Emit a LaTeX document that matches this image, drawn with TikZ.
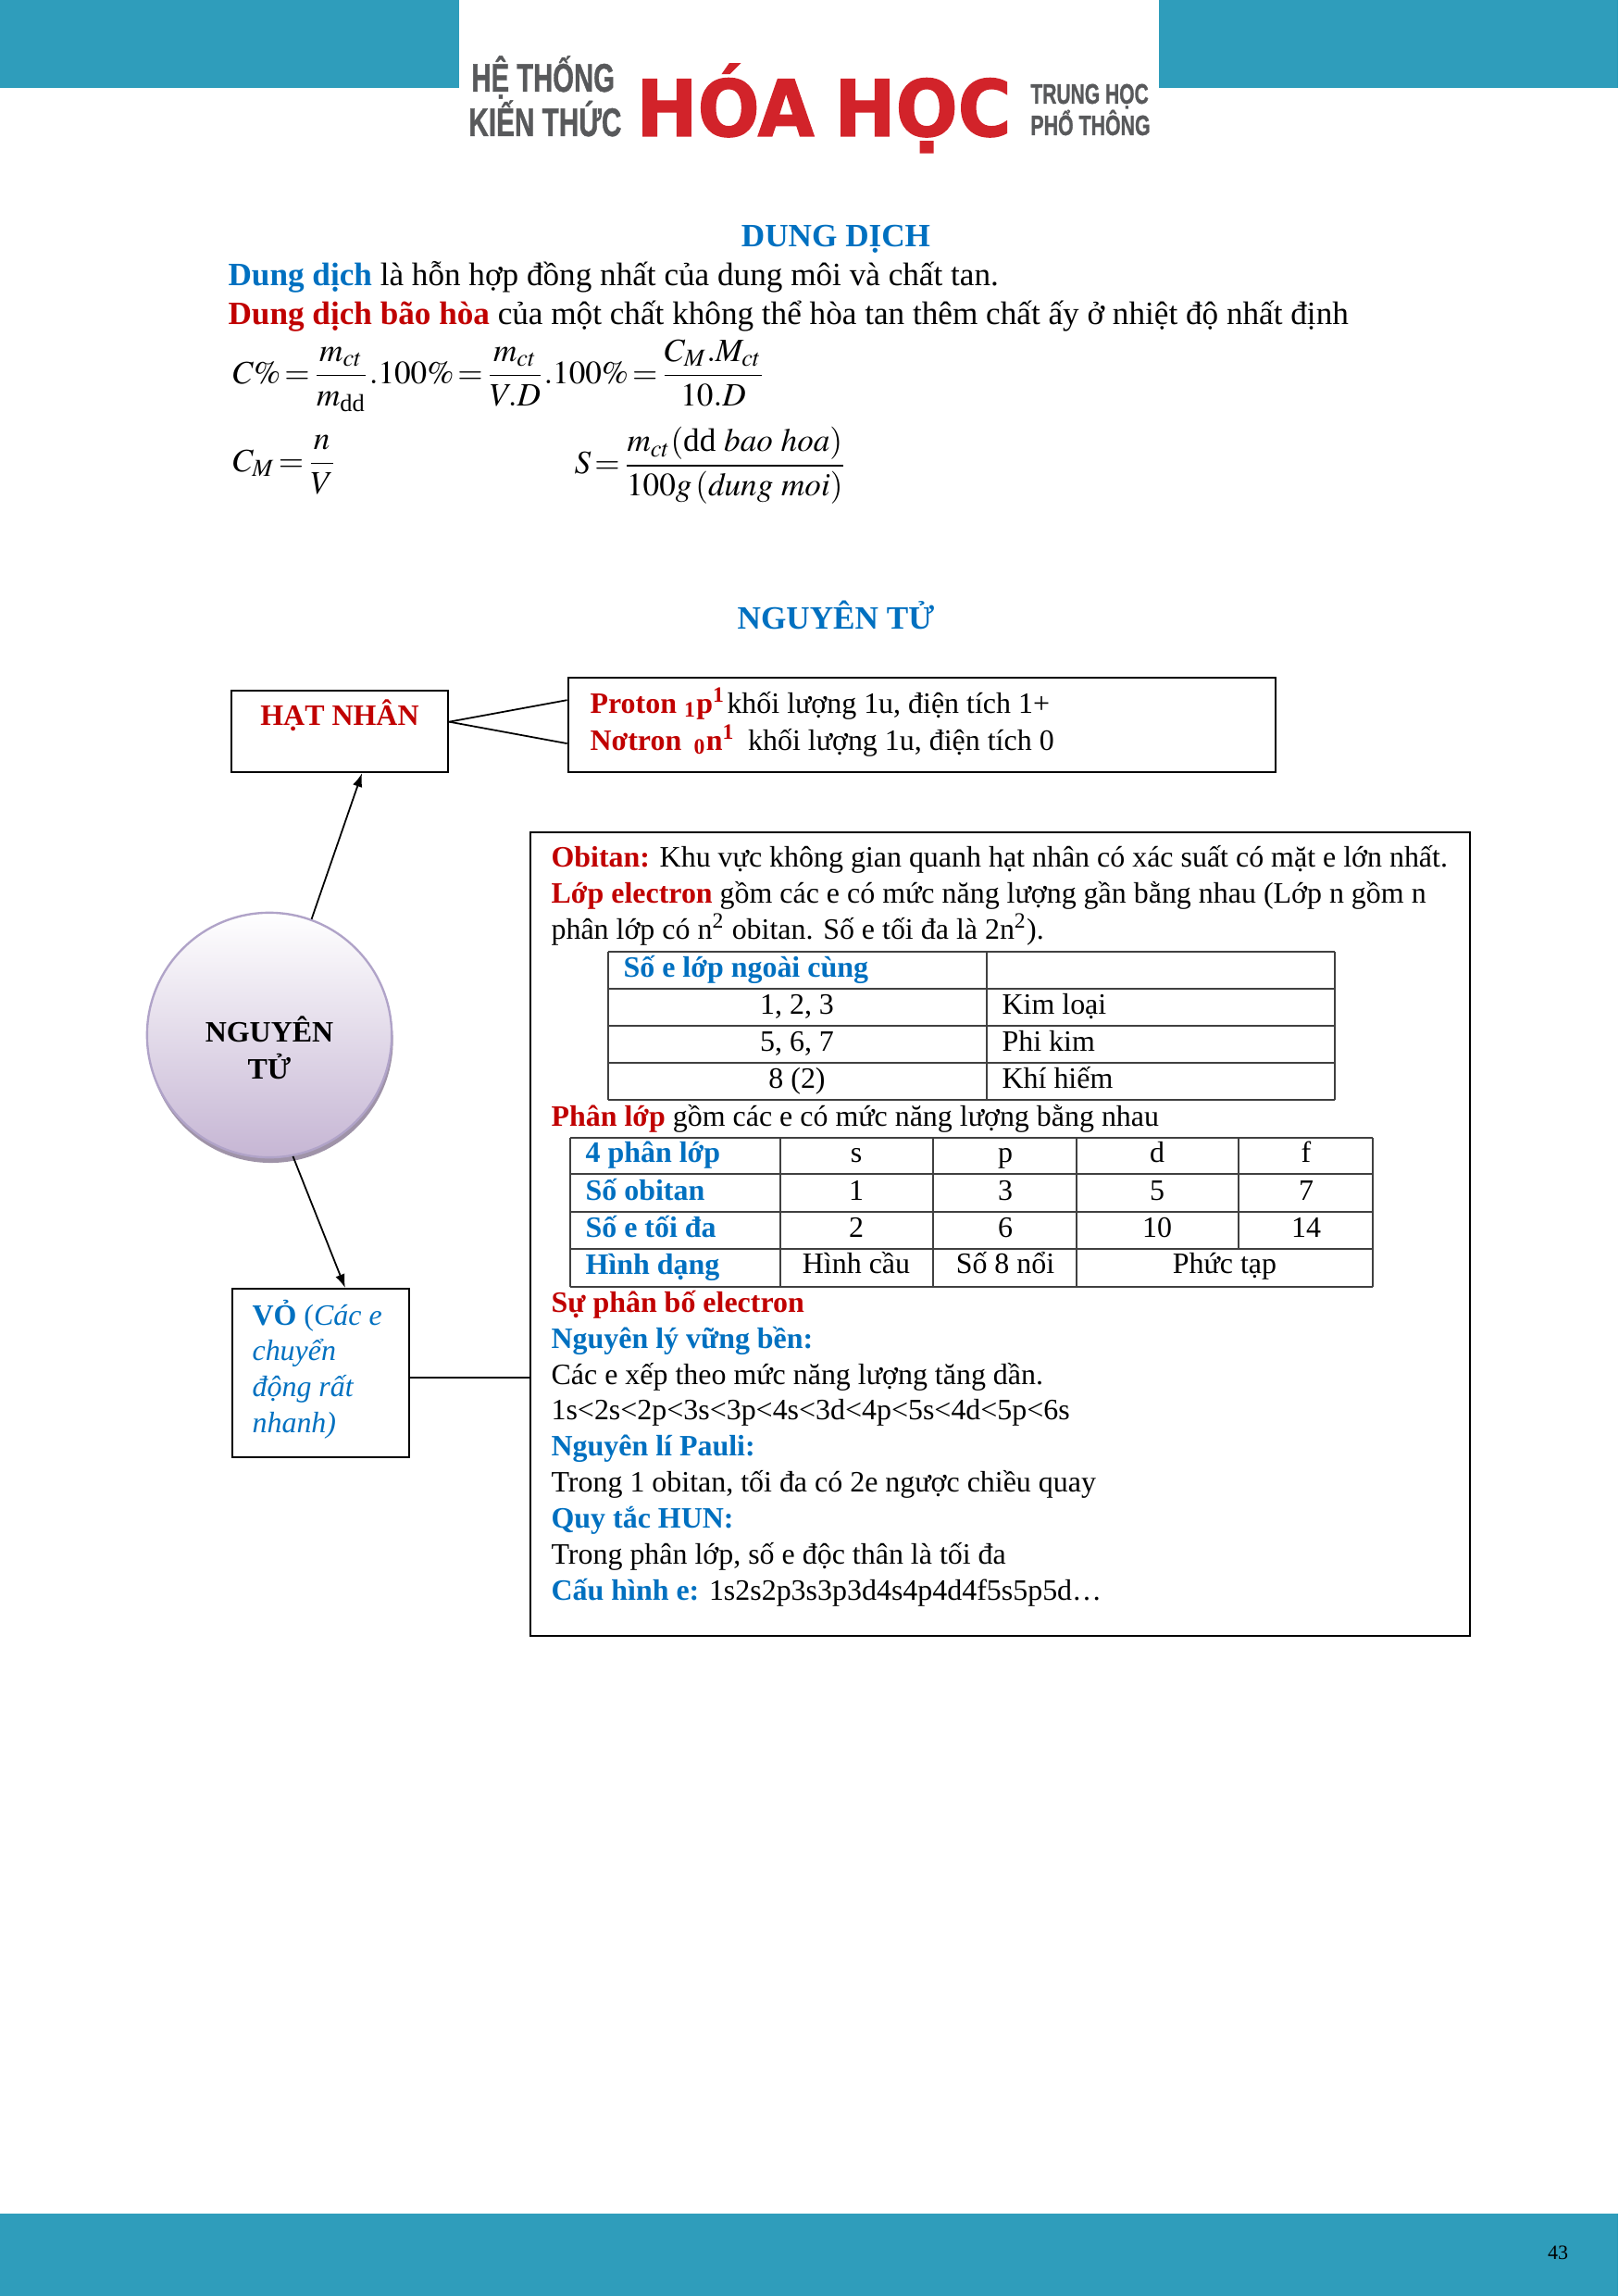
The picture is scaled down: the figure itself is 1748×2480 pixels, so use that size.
\documentclass[tikz,border=0pt]{standalone}
\usepackage{amsmath}
\usepackage{mathptmx}
\usepackage[no-math]{fontspec}
\setmainfont{Liberation Serif}
\newfontface\logofont[FakeBold=1.2]{Liberation Sans Bold}
\newfontface\heavyfont[FakeBold=1.5]{DejaVu Sans Bold}
\usetikzlibrary{shadows}
\usetikzlibrary{arrows.meta}
\tikzset{>={Latex[length=5pt,width=3.6pt]}}
\definecolor{tealbar}{HTML}{2F9DBB}
\definecolor{logored}{HTML}{D2232A}
\definecolor{logogray}{HTML}{58595B}
\definecolor{headblue}{HTML}{0070C0}
\definecolor{headred}{HTML}{C00000}
\definecolor{ballrim}{HTML}{B0A3C8}
\definecolor{ballbottom}{HTML}{C6B6D4}
\definecolor{ballshadow}{HTML}{9F93A8}
\newcommand{\redb}[1]{\textcolor{headred}{\textbf{#1}}}
\newcommand{\blueb}[1]{\textcolor{headblue}{\textbf{#1}}}
\newcommand{\tightrel}{\thickmuskip=2mu\relax}
\tikzset{
  txt/.style={anchor=base west,inner sep=0pt,font=\fontsize{10.9}{13}\selectfont},
  toptxt/.style={anchor=base west,inner sep=0pt,font=\fontsize{12}{14}\selectfont},
  cell/.style={anchor=base,inner sep=0pt,font=\fontsize{10.9}{13}\selectfont},
  boldcell/.style={anchor=base,inner sep=0pt,font=\fontsize{10.9}{13}\selectfont\bfseries},
  votxt/.style={anchor=base west,inner sep=0pt,text=headblue,font=\fontsize{10.9}{13}\selectfont\itshape},
  title/.style={anchor=base,inner sep=0pt,font=\fontsize{12}{14}\selectfont\bfseries,text=headblue},
  formula/.style={anchor=west,inner sep=0pt,font=\fontsize{12}{14}\selectfont},
  boxed/.style={draw,line width=0.8pt,inner sep=0pt},
  logo/.style={anchor=base west,inner sep=0pt,text=logogray,transform shape},
  tline/.style={line width=0.6pt,black!75},
}
\begin{document}
\begin{tikzpicture}[x=0.012cm,y=-0.012cm]
    \useasboundingbox (0,0) rectangle (1748,2480);
    % bands
    \fill[tealbar] (0,0) rectangle (496,95);
    \fill[tealbar] (1252,0) rectangle (1748,95);
    \fill[tealbar] (0,2391) rectangle (1748,2480);
    \node[anchor=base,inner sep=0pt,font=\fontsize{7.5}{9}\selectfont] (pageno) at (1683,2440) {43};
    % logo
    \node[logo,xscale=0.68,font=\logofont\fontsize{14.7}{16}\selectfont] (heth) at (509,99) {HỆ THỐNG};
    \node[logo,xscale=0.69,font=\logofont\fontsize{14.7}{16}\selectfont] (kien) at (506,147) {KIẾN THỨC};
    \node[logo,xscale=0.935,text=logored,font=\heavyfont\fontsize{28.8}{30}\selectfont] (hoahoc) at (687,147) {HÓA\hspace{-2pt} HỌC};
    \node[logo,xscale=0.69,font=\logofont\fontsize{10.4}{12}\selectfont] (trung) at (1113,112) {TRUNG HỌC};
    \node[logo,xscale=0.70,font=\logofont\fontsize{10.4}{12}\selectfont] (pho) at (1113,146) {PHỔ THÔNG};
    % dung dich
    \node[title] (ddtitle) at (903,267) {DUNG DỊCH};
    \node[toptxt] (ddone) at (246,309) {\blueb{Dung dịch} là hỗn hợp đồng nhất của dung môi và chất tan.};
    \node[toptxt] (ddtwo) at (246,351) {\redb{Dung dịch bão hòa} của một chất không thể hòa tan thêm chất ấy ở nhiệt độ nhất định};
    \node[formula] (fc) at (251,406)
      {$\tightrel C\%=\dfrac{m_{ct}}{m_{\text{dd}}}.100\%=\dfrac{m_{ct}}{V.D}.100\%=\dfrac{C_M.M_{ct}}{10.D}$};
    \node[formula] (fm) at (251,502)
      {$\tightrel C_M=\dfrac{n}{V}$};
    \node[formula] (fs) at (620,503)
      {$\tightrel S=\dfrac{m_{ct}(\text{dd }\mathit{bao\ hoa})}{100g\,(\mathit{dung\ moi})}$};
    % nguyen tu
    \node[title] (nttitle) at (903,679) {NGUYÊN TỬ};
    \node[boxed,minimum width=2.808cm,minimum height=1.056cm] (hatnhan) at (367,790) {};
    \node[boldcell,text=headred] (hatnhantxt) at (367,783) {HẠT NHÂN};
    \node[boxed,minimum width=9.168cm,minimum height=1.224cm] (proton) at (996,783) {};
    \node[txt] (prone) at (637,770) {\redb{Proton \textsubscript{1}p\textsuperscript{1}}\hspace{-2pt} khối lượng 1u, điện tích 1+};
    \node[txt] (prtwo) at (637,810) {\redb{Nơtron \,\textsubscript{0}n\textsuperscript{1}}\hspace{-0.6pt} \ khối lượng 1u, điện tích 0};
    \node[circle,draw=ballrim,line width=0.8pt,inner sep=0pt,minimum size=3.17cm,
      top color=white,bottom color=ballbottom,
      drop shadow={shadow xshift=0.5pt,shadow yshift=-2pt,fill=ballshadow,opacity=1}] (atom) at (291,1118) {};
    \node[boldcell] (atomone) at (291,1125) {NGUYÊN};
    \node[boldcell] (atomtwo) at (291,1165) {TỬ};
    \node[boxed,minimum width=2.292cm,minimum height=2.178cm] (vo) at (346.5,1483) {};
    \node[txt] (voa) at (272,1431) {\blueb{VỎ} \textcolor{headblue}{(\textit{Các e}}};
    \node[votxt] (vob) at (272,1469) {chuyển};
    \node[votxt] (voc) at (272,1508) {động rất};
    \node[votxt] (vod) at (272,1547) {nhanh)};
    \node[boxed,minimum width=12.18cm,minimum height=10.416cm] (shell) at (1080.5,1333) {};
    % connectors
    \draw[->,line width=0.6pt] (atom.70) -- (hatnhan.-62);
    \draw[->,line width=0.6pt] (atom.-79) -- (vo.74);
    \draw[line width=0.6pt] (hatnhan.5) -- (proton.176.4);
    \draw[line width=0.6pt] (hatnhan.5) -- (proton.-177.15);
    \draw[line width=0.7pt] (vo.-3.6) -- (vo.-3.6 -| shell.west);
    % text in the box
    \node[txt] (la) at (595,936) {\redb{Obitan:} Khu vực không gian quanh hạt nhân có xác suất có mặt e lớn nhất.};
    \node[txt] (lb) at (595,975) {\redb{Lớp electron} gồm các e có mức năng lượng gần bằng nhau (Lớp n gồm n};
    \node[txt] (lc) at (595,1014) {phân lớp có n\textsuperscript{2} obitan. Số e tối đa là 2n\textsuperscript{2}).};
    \node[txt] (ld) at (595,1216) {\redb{Phân lớp} gồm các e có mức năng lượng bằng nhau};
    \node[txt] (le) at (595,1417) {\redb{Sự phân bố electron}};
    \node[txt] (lf) at (595,1456) {\blueb{Nguyên lý vững bền:}};
    \node[txt] (lg) at (595,1495) {Các e xếp theo mức năng lượng tăng dần.};
    \node[txt] (lh) at (595,1533) {1s<2s<2p<3s<3p<4s<3d<4p<5s<4d<5p<6s};
    \node[txt] (li) at (595,1572) {\blueb{Nguyên lí Pauli:}};
    \node[txt] (lj) at (595,1611) {Trong 1 obitan, tối đa có 2e ngược chiều quay};
    \node[txt] (lk) at (595,1650) {\blueb{Quy tắc HUN:}};
    \node[txt] (ll) at (595,1689) {Trong phân lớp, số e độc thân là tối đa};
    \node[txt] (lm) at (595,1728) {\blueb{Cấu hình e:} 1s2s2p3s3p3d4s4p4d4f5s5p5d\ldots};
    % first table
    \foreach \k in {1028,1068,1108,1148,1188} {
      \draw[tline] (657,\k) -- (1442,\k);
    }
    \foreach \k in {657,1066,1442} {
      \draw[tline] (\k,1028) -- (\k,1188);
    }
    \node[txt] (tah) at (673,1055) {\blueb{Số e lớp ngoài cùng}};
    \foreach \y/\a/\b in {1095/{1, 2, 3}/Kim loại,1135/{5, 6, 7}/Phi kim,1175/8 (2)/Khí hiếm} {
      \node[cell] (ta\y) at (861,\y) {\a};
      \node[txt] (tb\y) at (1082,\y) {\b};
    }
    % second table
    \foreach \k in {1229,1268,1309,1349,1390} {
      \draw[tline] (616,\k) -- (1483,\k);
    }
    \foreach \k in {616,843,1008,1163,1483} {
      \draw[tline] (\k,1229) -- (\k,1390);
    }
    \draw[tline] (1338,1229) -- (1338,1349);
    \foreach \y/\t/\a/\b/\c/\d in {1255/4 phân lớp/s/p/d/f,1296/Số obitan/1/3/5/7,1336/Số e tối đa/2/6/10/14} {
      \node[txt] (ra\y) at (632,\y) {\blueb{\t}};
      \node[cell] (rb\y) at (925,\y) {\a};
      \node[cell] (rc\y) at (1086,\y) {\b};
      \node[cell] (rd\y) at (1250,\y) {\c};
      \node[cell] (re\y) at (1411,\y) {\d};
    }
    \node[txt] (rf) at (632,1376) {\blueb{Hình dạng}};
    \node[cell] (rg) at (925,1375) {Hình cầu};
    \node[cell] (rh) at (1086,1375) {Số 8 nổi};
    \node[cell] (ri) at (1323,1375) {Phức tạp};
\end{tikzpicture}
\end{document}
